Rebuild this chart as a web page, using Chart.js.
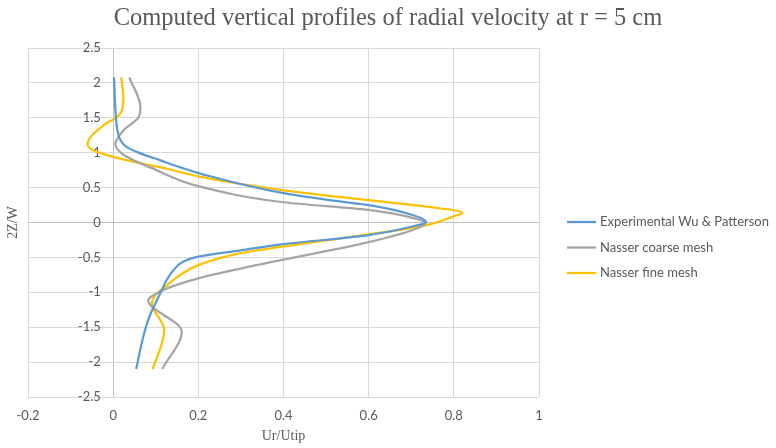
<!DOCTYPE html>
<html>
<head>
<meta charset="utf-8">
<script src="https://cdn.jsdelivr.net/npm/chart.js@4.4.1/dist/chart.umd.min.js"></script>
<style>
  html, body { margin: 0; padding: 0; background: #fff; }
  #wrap { width: 776px; height: 448px; position: relative; }
</style>
</head>
<body>
<div id="wrap"><canvas id="c" width="776" height="448"></canvas></div>
<script>
// ---- Data ----
const chartTitle = 'Computed vertical profiles of radial velocity at r = 5 cm';
const xAxisTitle = 'Ur/Utip';
const yAxisTitle = '2Z/W';
const seriesNames = ['Experimental Wu & Patterson', 'Nasser coarse mesh', 'Nasser fine mesh'];
const seriesColors = ['#5B9BD5', '#A5A5A5', '#FFC000'];

// Experimental Wu & Patterson
const expZ  = [2.08, 1.65, 1.32, 1.17, 1.08, 0.99, 0.89, 0.79, 0.70, 0.42, 0.28, 0.25, 0.10, 0.00, -0.05, -0.18, -0.31, -0.40, -0.49, -0.56, -0.68, -0.82, -1.01, -1.16, -1.35, -1.63, -2.10];
const expUr = [0.002, 0.005, 0.010, 0.018, 0.032, 0.064, 0.111, 0.158, 0.205, 0.400, 0.558, 0.600, 0.707, 0.735, 0.707, 0.600, 0.400, 0.299, 0.200, 0.165, 0.142, 0.126, 0.111, 0.099, 0.085, 0.071, 0.054];

// Nasser coarse mesh
const coarseZ  = [2.08, 1.65, 1.51, 1.32, 1.12, 0.99, 0.89, 0.79, 0.52, 0.29, 0.18, 0.06, -0.01, -0.10, -0.28, -0.54, -0.66, -0.80, -0.94, -1.04, -1.11, -1.56, -2.10];
const coarseUr = [0.038, 0.064, 0.060, 0.024, 0.005, 0.020, 0.048, 0.087, 0.200, 0.400, 0.600, 0.707, 0.733, 0.707, 0.600, 0.393, 0.299, 0.200, 0.128, 0.095, 0.082, 0.161, 0.115];

// Nasser fine mesh
const fineZ  = [2.08, 1.79, 1.60, 1.51, 1.41, 1.12, 1.03, 0.94, 0.84, 0.77, 0.66, 0.46, 0.32, 0.22, 0.14, 0.09, -0.04, -0.17, -0.35, -0.44, -0.61, -0.75, -0.90, -1.04, -1.16, -1.54, -2.10];
const fineUr = [0.019, 0.024, 0.020, 0.009, -0.019, -0.060, -0.046, 0.000, 0.070, 0.126, 0.200, 0.400, 0.600, 0.746, 0.820, 0.800, 0.735, 0.600, 0.393, 0.299, 0.200, 0.158, 0.126, 0.099, 0.091, 0.120, 0.093];

const xMin = -0.2, xMax = 1, xStep = 0.2;
const yMin = -2.5, yMax = 2.5, yStep = 0.5;

// ---- Build chart ----
function pts(xs, ys) { return xs.map((x, i) => ({ x: x, y: ys[i] })); }
const allSeries = [pts(expUr, expZ), pts(coarseUr, coarseZ), pts(fineUr, fineZ)];

const TEXT = '#595959';
const GRID = '#D9D9D9';
const AXIS = '#BFBFBF';
const tickFont = { family: 'Lato, "Liberation Sans", sans-serif', size: 13 };

const extrasPlugin = {
  id: 'extras',
  afterDraw(chart) {
    const ctx = chart.ctx;
    const area = chart.chartArea;
    ctx.save();
    // chart title
    ctx.fillStyle = TEXT;
    ctx.textAlign = 'center';
    ctx.textBaseline = 'middle';
    ctx.font = '24.5px "Liberation Serif", serif';
    ctx.fillText(chartTitle, chart.width / 2, 19);
    // axis titles
    ctx.font = '14px "Liberation Serif", serif';
    ctx.fillText(xAxisTitle, (area.left + area.right) / 2, 436);
    ctx.save();
    ctx.translate(13, (area.top + area.bottom) / 2);
    ctx.rotate(-Math.PI / 2);
    ctx.fillText(yAxisTitle, 0, 0);
    ctx.restore();
    // legend
    ctx.font = '13px Lato, "Liberation Sans", sans-serif';
    ctx.textAlign = 'left';
    const lx = 567, ly = 222, dy = 25.5;
    chart.data.datasets.forEach((ds, i) => {
      const y = ly + i * dy;
      ctx.strokeStyle = ds.borderColor;
      ctx.lineWidth = 2.25;
      ctx.beginPath();
      ctx.moveTo(lx, y);
      ctx.lineTo(lx + 29, y);
      ctx.stroke();
      ctx.fillStyle = TEXT;
      ctx.fillText(ds.label, lx + 33, y);
    });
    ctx.restore();
  }
};

new Chart(document.getElementById('c'), {
  type: 'line',
  data: {
    datasets: allSeries.map((d, i) => ({
      label: seriesNames[i],
      data: d,
      borderColor: seriesColors[i],
      backgroundColor: seriesColors[i],
      borderWidth: 2.25,
      pointRadius: 0,
      pointHoverRadius: 0,
      cubicInterpolationMode: 'monotone',
      fill: false
    }))
  },
  options: {
    indexAxis: 'y',
    responsive: false,
    animation: false,
    events: [],
    layout: { padding: { left: 28, right: 237, top: 48, bottom: 51 } },
    plugins: {
      legend: { display: false },
      tooltip: { enabled: false },
      title: { display: false }
    },
    scales: {
      x: {
        type: 'linear',
        position: { y: yMin },
        min: xMin, max: xMax,
        ticks: {
          stepSize: xStep,
          color: TEXT,
          font: tickFont,
          padding: 11,
          maxRotation: 0,
          callback: v => String(Number(v.toFixed(2)))
        },
        grid: {
          drawTicks: false,
          color: c => (c.tick && Math.abs(c.tick.value) < 1e-9) ? AXIS : GRID,
          lineWidth: 1
        },
        border: { display: false }
      },
      y: {
        type: 'linear',
        position: { x: -0.029 },
        min: yMin, max: yMax,
        ticks: {
          stepSize: yStep,
          color: TEXT,
          font: tickFont,
          padding: 0,
          callback: v => String(Number(v.toFixed(2)))
        },
        grid: {
          drawTicks: false,
          color: c => (c.tick && Math.abs(c.tick.value) < 1e-9) ? AXIS : GRID,
          lineWidth: 1
        },
        border: { display: false }
      }
    }
  },
  plugins: [extrasPlugin]
});
</script>
</body>
</html>
